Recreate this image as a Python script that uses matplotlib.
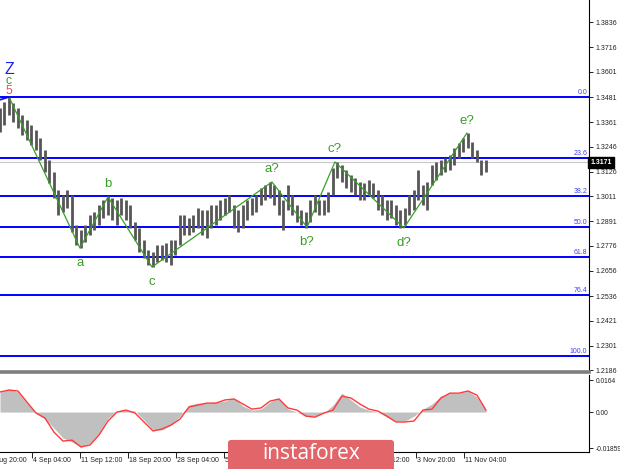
import matplotlib
matplotlib.use("Agg")
import matplotlib.pyplot as plt
import matplotlib.transforms as mtransforms
from matplotlib.patches import FancyBboxPatch

# H4 bars, sampled every 3 bars (bar index = 3 * i)
bar_highs = [1.3429, 1.3457, 1.3481, 1.3453, 1.3429, 1.3396, 1.3372, 1.3348, 1.3324, 1.3286,
             1.3230, 1.3182, 1.3125, 1.3040, 1.3016, 1.3040, 1.3016, 1.2874, 1.2850, 1.2874,
             1.2921, 1.2935, 1.2969, 1.2992, 1.3011, 1.3002, 1.2992, 1.3002, 1.2992, 1.2969,
             1.2888, 1.2860, 1.2803, 1.2755, 1.2746, 1.2779, 1.2779, 1.2789, 1.2803, 1.2803,
             1.2921, 1.2921, 1.2907, 1.2921, 1.2954, 1.2945, 1.2945, 1.2969, 1.2969, 1.2992,
             1.3002, 1.3016, 1.2969, 1.2945, 1.2969, 1.2992, 1.3002, 1.3016, 1.3049, 1.3064,
             1.3078, 1.3064, 1.3040, 1.2992, 1.3064, 1.3016, 1.2969, 1.2945, 1.2935, 1.2992,
             1.3016, 1.2992, 1.2992, 1.3030, 1.3144, 1.3173, 1.3158, 1.3135, 1.3111, 1.3097,
             1.3078, 1.3073, 1.3087, 1.3073, 1.3040, 1.3016, 1.2992, 1.2992, 1.2969, 1.2945,
             1.2954, 1.3016, 1.3040, 1.3135, 1.3064, 1.3078, 1.3158, 1.3173, 1.3182, 1.3192,
             1.3206, 1.3239, 1.3263, 1.3286, 1.3310, 1.3267, 1.3230, 1.3182, 1.3182]
bar_lows = [1.3315, 1.3348, 1.3396, 1.3362, 1.3334, 1.3301, 1.3277, 1.3253, 1.3230, 1.3182,
            1.3125, 1.3073, 1.3002, 1.2921, 1.2935, 1.2954, 1.2841, 1.2779, 1.2765, 1.2793,
            1.2826, 1.2850, 1.2874, 1.2907, 1.2921, 1.2898, 1.2874, 1.2921, 1.2898, 1.2860,
            1.2803, 1.2746, 1.2717, 1.2684, 1.2675, 1.2698, 1.2708, 1.2698, 1.2684, 1.2731,
            1.2779, 1.2826, 1.2826, 1.2841, 1.2860, 1.2826, 1.2812, 1.2860, 1.2874, 1.2898,
            1.2921, 1.2935, 1.2860, 1.2841, 1.2860, 1.2898, 1.2921, 1.2935, 1.2969, 1.2992,
            1.3002, 1.2969, 1.2921, 1.2850, 1.2945, 1.2921, 1.2888, 1.2874, 1.2860, 1.2888,
            1.2935, 1.2921, 1.2921, 1.2935, 1.3016, 1.3097, 1.3078, 1.3049, 1.3030, 1.3016,
            1.2992, 1.2992, 1.3016, 1.3002, 1.2945, 1.2921, 1.2898, 1.2907, 1.2874, 1.2860,
            1.2874, 1.2921, 1.2945, 1.2992, 1.2969, 1.2945, 1.3064, 1.3087, 1.3111, 1.3125,
            1.3135, 1.3158, 1.3192, 1.3220, 1.3239, 1.3192, 1.3173, 1.3111, 1.3125]
bar_index = [3 * i for i in range(len(bar_highs))]

last_price = 1.3171

# Fibonacci retracement levels
fib_labels = ["0.0", "23.6", "38.2", "50.0", "61.8", "76.4", "100.0"]
fib_prices = [1.3481, 1.3191, 1.3012, 1.2866, 1.2721, 1.2542, 1.2252]

# wave markup
wave_x = [6, 53.3, 72, 101.3, 181.3, 204.7, 223.3, 269.3, 311.3]
wave_price = [1.3481, 1.2765, 1.3007, 1.2675, 1.3078, 1.2864, 1.3173, 1.2860, 1.3310]
wave_names = ["", "a", "b", "c", "a?", "b?", "c?", "d?", "e?"]
wave_above = [True, False, True, False, True, False, True, False, True]

price_ticks = [1.3836, 1.3716, 1.3601, 1.3481, 1.3361, 1.3246, 1.3126, 1.3011,
               1.2891, 1.2776, 1.2656, 1.2536, 1.2421, 1.2301, 1.2186]

# oscillator, sampled every 6 bars
osc_index = [6 * i for i in range(55)]
osc_hist = [0.0103, 0.0118, 0.0103, 0.0046, -0.0005, -0.0036, -0.0082, -0.0133, -0.0154, -0.0179,
            -0.0159, -0.0108, -0.0031, 0.0005, 0.0010, 0.0005, -0.0041, -0.0092, -0.0092, -0.0067,
            -0.0021, 0.0036, 0.0046, 0.0046, 0.0051, 0.0056, 0.0072, 0.0031, 0.0010, 0.0015,
            0.0051, 0.0072, 0.0015, 0.0000, -0.0021, -0.0021, -0.0005, 0.0036, 0.0097, 0.0062,
            0.0026, 0.0010, 0.0000, -0.0026, -0.0046, -0.0046, -0.0021, 0.0015, 0.0041, 0.0082,
            0.0097, 0.0097, 0.0108, 0.0077, 0.0010]
osc_signal = [0.0103, 0.0113, 0.0108, 0.0051, -0.0005, -0.0031, -0.0103, -0.0149, -0.0144, -0.0179,
              -0.0169, -0.0118, -0.0046, 0.0000, 0.0010, -0.0005, -0.0051, -0.0097, -0.0087, -0.0067,
              -0.0036, 0.0026, 0.0036, 0.0046, 0.0046, 0.0062, 0.0067, 0.0041, 0.0015, 0.0021,
              0.0056, 0.0067, 0.0021, 0.0010, -0.0021, -0.0026, -0.0005, 0.0010, 0.0082, 0.0072,
              0.0041, 0.0015, 0.0005, -0.0021, -0.0051, -0.0051, -0.0046, 0.0010, 0.0015, 0.0072,
              0.0097, 0.0097, 0.0108, 0.0087, 0.0010]
osc_ticks = [0.0164, 0.0, -0.01859]
osc_tick_labels = ["0.0164", "0.00", "-0.01859"]

# time axis (labels fully covered by the watermark are left out)
time_ticks = [-10.7, 21.3, 53.3, 85.3, 117.3, 149.3, 245.3, 277.3, 309.3]
time_labels = ["27 Aug 20:00", "4 Sep 04:00", "11 Sep 12:00", "18 Sep 20:00", "28 Sep 04:00",
               "5 Oct 12:00", "27 Oct 12:00", "3 Nov 20:00", "11 Nov 04:00"]
hidden_ticks = [181.3, 213.3]

plt.rcParams['font.family'] = ['Liberation Sans', 'DejaVu Sans']

fig = plt.figure(figsize=(6.2, 4.69), dpi=100)
ax = fig.add_axes([0.0, 0.2068, 0.950, 0.7932])
axo = fig.add_axes([0.0, 0.0362, 0.950, 0.1642])

xmax = 392.7
green = '#3a9d2a'
axis_fs = 5.0

# ---- main chart
for p in fib_prices:
    ax.axhline(p, color='#0000ff', lw=1.4, zorder=2)
ax.axhline(last_price, color='#c8c8c8', lw=0.8, zorder=1)

ax.vlines(bar_index, bar_lows, bar_highs, color='#565656', lw=2.0, zorder=3)

ax.plot(wave_x, wave_price, color=green, lw=0.9, zorder=4)
ax.plot([0, 6], [1.3468, 1.3481], color='#0000ff', lw=1.2, zorder=4)

for x, p, name, up in zip(wave_x, wave_price, wave_names, wave_above):
    if not name:
        continue
    off = 9 if up else -11
    ax.annotate(name, (x, p), xytext=(0, off), textcoords='offset points',
                ha='center', va='center', color=green, fontsize=9.5, zorder=5)

ax.annotate("5", (wave_x[0], wave_price[0]), xytext=(0, 4.2), textcoords='offset points',
            ha='center', va='center', color='#ff4545', fontsize=8.8)
ax.annotate("c", (wave_x[0], wave_price[0]), xytext=(0, 11.3), textcoords='offset points',
            ha='center', va='center', color=green, fontsize=8.8)
ax.annotate("Z", (wave_x[0], wave_price[0]), xytext=(0, 20), textcoords='offset points',
            ha='center', va='center', color='#1a1aff', fontsize=11.5)

trans = mtransforms.blended_transform_factory(ax.transAxes, ax.transData)
for lab, p in zip(fib_labels, fib_prices):
    ax.text(0.997, p + 0.0004, lab, transform=trans, ha='right', va='bottom',
            fontsize=5.0, color='#4040ff')

ax.yaxis.tick_right()
ax.set_yticks(price_ticks)
ax.set_yticklabels([f"{t:.4f}" for t in price_ticks])
ax.tick_params(axis='y', direction='out', length=3, width=0.7, labelsize=axis_fs, pad=2, colors='#222222')
ax.set_xticks([])
ax.set_xlim(0, xmax)
ax.set_ylim(1.2177, 1.3941)

ax.text(1.002, last_price, f"{last_price:.4f}", transform=trans, ha='left', va='center',
        fontsize=axis_fs, color='white', fontweight='bold',
        bbox=dict(facecolor='black', edgecolor='black', pad=1.5), clip_on=False, zorder=6)

for s in ['top', 'left']:
    ax.spines[s].set_visible(False)
ax.spines['right'].set_color('black')
ax.spines['right'].set_linewidth(0.8)
ax.spines['bottom'].set_color('#7f7f7f')
ax.spines['bottom'].set_linewidth(2.6)

# ---- oscillator
axo.fill_between(osc_index, 0, osc_hist, color='#c0c0c0', lw=0)
axo.plot(osc_index, osc_signal, color='#ff3a3a', lw=1.0)

axo.yaxis.tick_right()
axo.set_yticks(osc_ticks)
axo.set_yticklabels(osc_tick_labels)
axo.tick_params(axis='y', direction='out', length=3, width=0.7, labelsize=4.8, pad=2, colors='#222222')
axo.set_xticks(sorted(time_ticks + hidden_ticks))
axo.set_xticklabels([])
axo.tick_params(axis='x', direction='out', length=4, width=0.7, colors='#222222')
# set limits after the ticks, set_xticks would widen the view otherwise
axo.set_xlim(0, xmax)
axo.set_ylim(-0.0205, 0.0190)
for t, lab in zip(time_ticks, time_labels):
    axo.annotate(lab, (t, 0), xycoords=('data', 'axes fraction'), xytext=(1.0, -6),
                 textcoords='offset points', ha='left', va='center', fontsize=axis_fs,
                 color='#222222', annotation_clip=False)

for s in ['top', 'left']:
    axo.spines[s].set_visible(False)
for s in ['right', 'bottom']:
    axo.spines[s].set_color('black')
    axo.spines[s].set_linewidth(0.8)

# ---- watermark
badge = FancyBboxPatch((228 / 620, -0.02), 166 / 620, 0.082, transform=fig.transFigure,
                       boxstyle='round,pad=0,rounding_size=0.006', facecolor='#e2656a',
                       edgecolor='none', zorder=10)
fig.patches.append(badge)
fig.text(311 / 620, 0.032, "instaforex", ha='center', va='center', color='white',
         fontsize=15, family=['Open Sans', 'DejaVu Sans'], zorder=11)

fig.savefig("out.png", dpi=100)
